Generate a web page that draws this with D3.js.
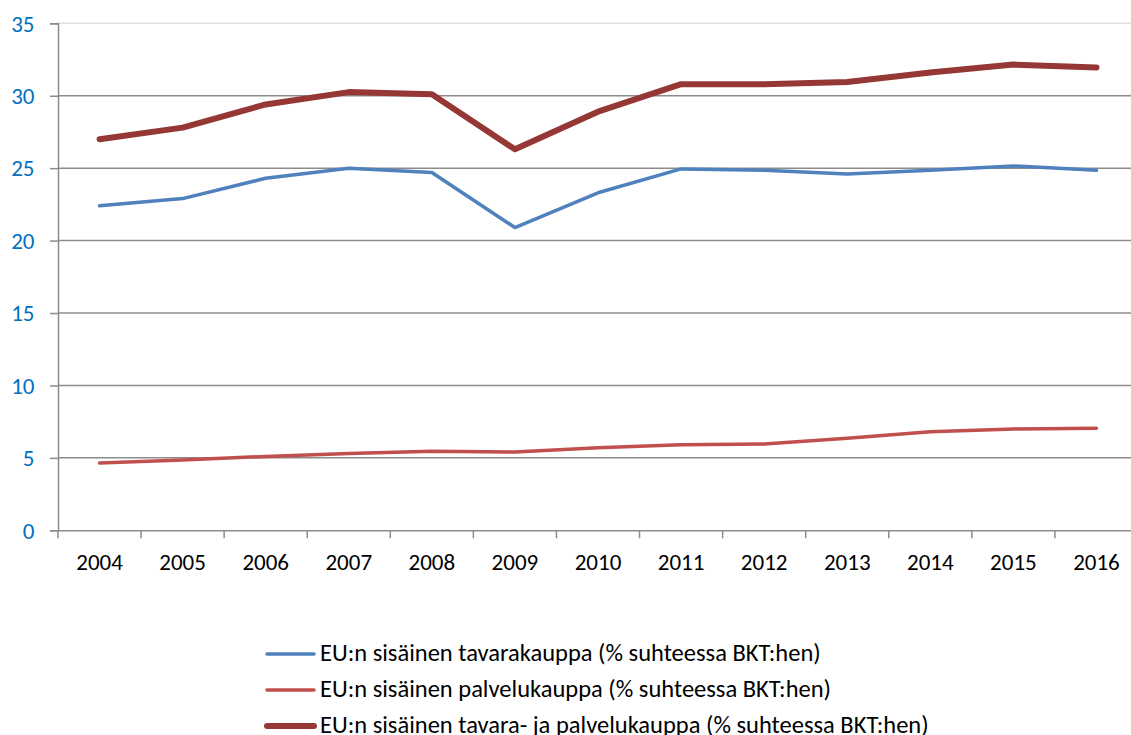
<!DOCTYPE html>
<html>
<head>
<meta charset="utf-8">
<script src="https://cdn.jsdelivr.net/npm/d3@7"></script>
<style>
  body { margin: 0; background: #fff; }
  svg { display: block; }
  svg text { font-family: Carlito, "Liberation Sans", Arial, sans-serif; }
</style>
</head>
<body>
<svg width="1131" height="735"></svg>
<script>
// Chart data
var years = ["2004", "2005", "2006", "2007", "2008", "2009", "2010", "2011", "2012", "2013", "2014", "2015", "2016"];
var goods = [22.4, 22.9, 24.3, 25.0, 24.7, 20.9, 23.3, 24.95, 24.85, 24.6, 24.85, 25.15, 24.85];
var services = [4.65, 4.85, 5.1, 5.3, 5.45, 5.4, 5.7, 5.9, 5.95, 6.35, 6.8, 7.0, 7.05];
var total = [27.0, 27.8, 29.4, 30.25, 30.1, 26.3, 28.9, 30.8, 30.8, 30.95, 31.6, 32.15, 31.95];
var yTicks = [0, 5, 10, 15, 20, 25, 30, 35];
var labels = [
	"EU:n sisäinen tavarakauppa (% suhteessa BKT:hen)",
	"EU:n sisäinen palvelukauppa (% suhteessa BKT:hen)",
	"EU:n sisäinen tavara- ja palvelukauppa (% suhteessa BKT:hen)"
];

var series = [
	{ values: goods, color: "#4f81bd", width: 3.5 },
	{ values: services, color: "#c0504d", width: 3.5 },
	{ values: total, color: "#953735", width: 6 }
];

var plotLeft = 58, plotRight = 1138, plotTop = 23.3, plotBottom = 530.3;

var x = d3.scaleBand().domain(years).range([plotLeft, plotRight]);
var y = d3.scaleLinear().domain([0, 35]).range([plotBottom, plotTop]);

var svg = d3.select("svg");

// Gridlines
svg.append("g")
	.selectAll("line")
	.data(yTicks.filter(function (d) { return d > 0; }))
	.enter().append("line")
	.attr("x1", plotLeft)
	.attr("x2", plotRight)
	.attr("y1", function (d) { return y(d); })
	.attr("y2", function (d) { return y(d); })
	.attr("stroke", function (d) { return d == 35 ? "#e0e0e0" : "#8c8c8c"; })
	.attr("stroke-width", 1.5);

// Y axis
var yAxis = svg.append("g")
	.attr("transform", "translate(" + plotLeft + ",0)")
	.call(d3.axisLeft(y).tickValues(yTicks).tickSize(8).tickPadding(15.5));
yAxis.select(".domain").attr("stroke", "#8c8c8c").attr("stroke-width", 1.5);
yAxis.selectAll(".tick line").attr("stroke", "#8c8c8c").attr("stroke-width", 1.5);
yAxis.selectAll(".tick text")
	.attr("fill", "#0070c0")
	.style("font-size", "23px")
	.attr("dy", "0.34em");

// X axis
var xAxis = svg.append("g")
	.attr("transform", "translate(0," + plotBottom + ")")
	.call(d3.axisBottom(x).tickSize(0).tickPadding(23));
xAxis.select(".domain").attr("stroke", "#8c8c8c").attr("stroke-width", 1.5);
xAxis.selectAll(".tick text")
	.attr("fill", "#000")
	.style("font-size", "23px");

svg.append("g")
	.selectAll("line")
	.data(years)
	.enter().append("line")
	.attr("x1", function (d) { return x(d); })
	.attr("x2", function (d) { return x(d); })
	.attr("y1", plotBottom)
	.attr("y2", plotBottom + 8)
	.attr("stroke", "#8c8c8c")
	.attr("stroke-width", 1.5);

// Lines
var line = d3.line()
	.x(function (d, i) { return x(years[i]) + x.bandwidth() / 2; })
	.y(function (d) { return y(d); });

series.forEach(function (s) {
	svg.append("path")
		.datum(s.values)
		.attr("fill", "none")
		.attr("stroke", s.color)
		.attr("stroke-width", s.width)
		.attr("stroke-linejoin", "round")
		.attr("stroke-linecap", "round")
		.attr("d", line);
});

// Legend
var legend = svg.append("g")
	.selectAll("g")
	.data(series)
	.enter().append("g")
	.attr("transform", function (d, i) { return "translate(265," + (654 + i * 36) + ")"; });

legend.append("line")
	.attr("x1", 2)
	.attr("x2", 49)
	.attr("stroke", function (d) { return d.color; })
	.attr("stroke-width", function (d) { return d.width; })
	.attr("stroke-linecap", "round");

legend.append("text")
	.attr("x", 55)
	.attr("dy", "0.3em")
	.style("font-size", "24.5px")
	.attr("fill", "#000")
	.text(function (d, i) { return labels[i]; });
</script>
</body>
</html>
